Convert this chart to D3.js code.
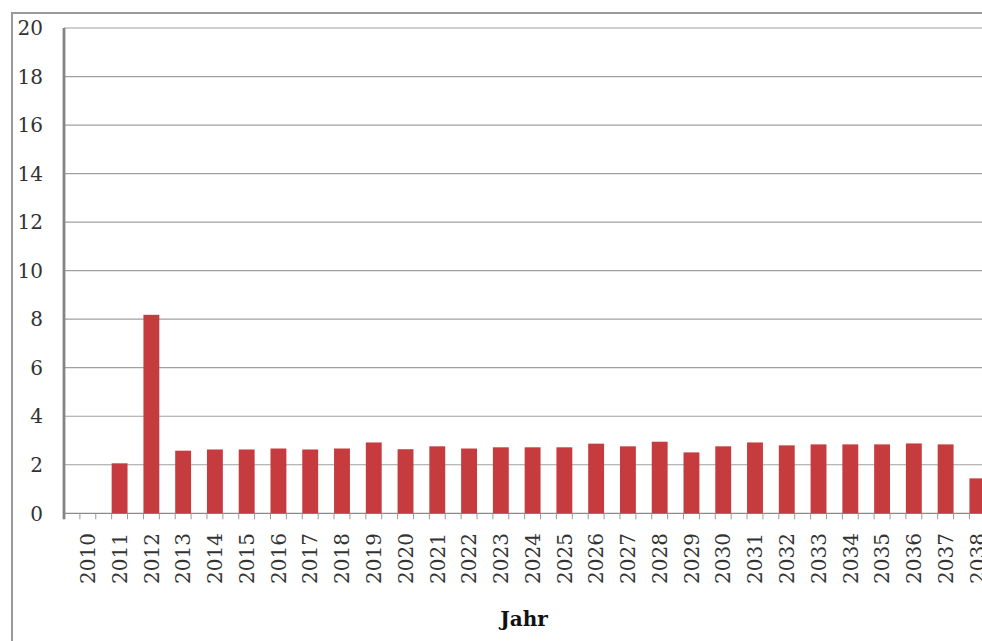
<!DOCTYPE html>
<html>
<head>
<meta charset="utf-8">
<script src="https://cdn.jsdelivr.net/npm/d3@7"></script>
<style>
  html, body { margin: 0; padding: 0; background: #fff; overflow: hidden; }
  svg { display: block; }
</style>
</head>
<body>
<svg id="chart" width="982" height="641"></svg>
<script>
// years on the x axis
const years = d3.range(2010, 2039).map(String);
// bar values per year (2010 has no bar)
const values = [0, 2.06, 8.18, 2.58, 2.63, 2.63, 2.67, 2.63, 2.67, 2.92,
                2.64, 2.76, 2.67, 2.72, 2.72, 2.72, 2.87, 2.76, 2.95, 2.51,
                2.76, 2.92, 2.80, 2.84, 2.84, 2.84, 2.88, 2.84, 1.44];
const yTicks = [0, 2, 4, 6, 8, 10, 12, 14, 16, 18, 20];
const xTitle = 'Jahr';

const svg = d3.select('#chart');
const font = '"DejaVu Serif", serif';

// outer frame (cut by the window on right and bottom)
svg.append('path')
    .attr('d', 'M12,645 L12,13 L990,13')
    .attr('fill', 'none')
    .attr('stroke', '#9a9a9a')
    .attr('stroke-width', 2);

const plotLeft = 64, plotTop = 28, plotBottom = 513.3;
const step = 31.77;

const x = d3.scaleBand()
    .domain(years)
    .range([plotLeft, plotLeft + step * years.length])
    .padding(0);

const y = d3.scaleLinear()
    .domain([0, 20])
    .range([plotBottom, plotTop]);

// gridlines
svg.append('g')
    .selectAll('line')
    .data(yTicks)
    .join('line')
    .attr('x1', plotLeft)
    .attr('x2', 990)
    .attr('y1', d => y(d))
    .attr('y2', d => y(d))
    .attr('stroke', d => d === 0 ? '#8a8a8a' : '#a0a0a0')
    .attr('stroke-width', 1.2);

// y labels
svg.append('g')
    .selectAll('text')
    .data(yTicks)
    .join('text')
    .attr('x', 43)
    .attr('y', d => y(d))
    .attr('dy', '0.36em')
    .attr('text-anchor', 'end')
    .attr('font-family', font)
    .attr('font-size', 20)
    .attr('fill', '#333')
    .text(d => d);

// bars sit in the right half of each year band
const bw = x.bandwidth();
svg.append('g')
    .selectAll('rect')
    .data(values.map((v, i) => ({ year: years[i], value: v })).filter(d => d.value > 0))
    .join('rect')
    .attr('x', d => x(d.year) + bw / 2)
    .attr('width', bw / 2)
    .attr('y', d => y(d.value))
    .attr('height', d => y(0) - y(d.value))
    .attr('fill', '#c63b3e');

// tick marks, two per year
const tickPos = [];
years.forEach(yr => { tickPos.push(x(yr)); tickPos.push(x(yr) + bw / 2); });
svg.append('g')
    .selectAll('line')
    .data(tickPos)
    .join('line')
    .attr('x1', d => d)
    .attr('x2', d => d)
    .attr('y1', plotBottom)
    .attr('y2', plotBottom + 6)
    .attr('stroke', '#999')
    .attr('stroke-width', 1);

// left axis line
svg.append('line')
    .attr('x1', plotLeft)
    .attr('x2', plotLeft)
    .attr('y1', plotTop)
    .attr('y2', plotBottom + 6)
    .attr('stroke', '#858585')
    .attr('stroke-width', 2.8);

// x labels, rotated
svg.append('g')
    .selectAll('text')
    .data(years)
    .join('text')
    .attr('transform', d => `translate(${x(d) + bw * 0.75},533) rotate(-90)`)
    .attr('text-anchor', 'end')
    .attr('dy', '0.36em')
    .attr('font-family', font)
    .attr('font-size', 20)
    .attr('fill', '#333')
    .text(d => d);

// axis title
svg.append('text')
    .attr('x', 524)
    .attr('y', 626)
    .attr('text-anchor', 'middle')
    .attr('font-family', font)
    .attr('font-weight', 'bold')
    .attr('font-size', 20)
    .attr('fill', '#111')
    .text(xTitle);
</script>
</body>
</html>
